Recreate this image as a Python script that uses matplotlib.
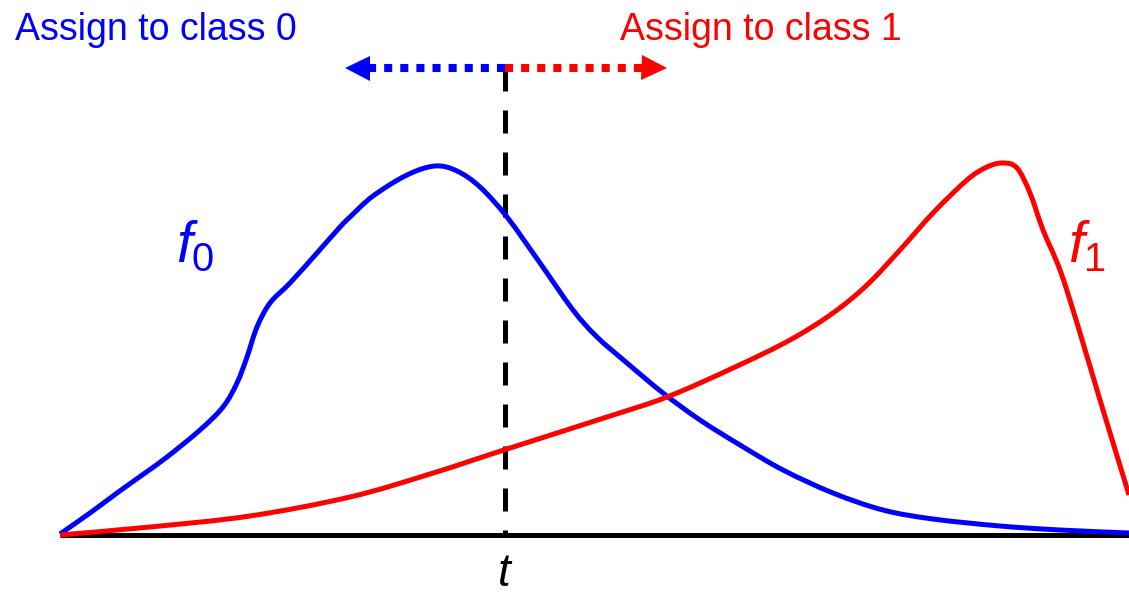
import numpy as np
import matplotlib.pyplot as plt
from matplotlib.path import Path
from matplotlib.patches import PathPatch

plt.rcParams['font.family'] = ['Liberation Sans', 'DejaVu Sans']
plt.rcParams['mathtext.fontset'] = 'custom'
plt.rcParams['mathtext.it'] = 'Liberation Sans:italic'
plt.rcParams['mathtext.rm'] = 'Liberation Sans'

# curves (pixel-like units, y grows downward)
f0_x = [60, 90, 117, 145, 167, 200, 223, 237, 247, 257, 270, 290, 317, 340, 350, 373, 407,
        435, 457, 480, 507, 540, 573, 597, 627, 663, 700, 740, 783, 833, 883, 933, 1000,
        1060, 1129]
f0_y = [534, 513, 493, 473, 457, 430, 407, 383, 357, 327, 303, 283, 253, 227, 217, 196, 175,
        166, 171, 187, 217, 263, 310, 337, 363, 393, 420, 445, 470, 493, 510, 519, 526,
        530, 533]

f1_x = [60, 150, 250, 350, 430, 507, 607, 667, 733, 790, 833, 867, 900, 933, 967, 987, 1003,
        1017, 1030, 1043, 1060, 1077, 1100, 1129]
f1_y = [535, 527, 516, 497, 474, 449, 417, 397, 368, 340, 313, 285, 250, 213, 180, 167, 163,
        168, 193, 230, 270, 323, 400, 495]

t_x = 505
base_y = 535
arrow_y = 68
left_end = 348
right_end = 663


def smooth_path(xs, ys):
    # catmull-rom through the read points, written as bezier segments
    p = np.column_stack([xs, ys]).astype(float)
    verts = [p[0]]
    codes = [Path.MOVETO]
    for i in range(len(p) - 1):
        p0 = p[i - 1] if i > 0 else p[i]
        p3 = p[i + 2] if i + 2 < len(p) else p[i + 1]
        c1 = p[i] + (p[i + 1] - p0) / 6
        c2 = p[i + 1] - (p3 - p[i]) / 6
        verts += [c1, c2, p[i + 1]]
        codes += [Path.CURVE4] * 3
    return Path(verts, codes)


fig = plt.figure(figsize=(11.29, 5.94), dpi=100)
ax = fig.add_axes([0, 0, 1, 1])
ax.set_xlim(0, 1129)
ax.set_ylim(594, 0)
ax.axis('off')

ax.plot([60, 1129], [base_y, base_y], color='black', lw=3.6, solid_capstyle='butt', zorder=1)
ax.add_patch(PathPatch(smooth_path(f0_x, f0_y), fill=False, edgecolor='blue', lw=3.6,
                       joinstyle='round', zorder=3))
ax.add_patch(PathPatch(smooth_path(f1_x, f1_y), fill=False, edgecolor='red', lw=3.6,
                       joinstyle='round', zorder=3))

ax.plot([t_x, t_x], [arrow_y, base_y], color='black', lw=3.6,
        linestyle=(0, (4.6, 3.8)), dash_capstyle='butt', zorder=2)

# dotted arrows
ax.plot([t_x, left_end + 18], [arrow_y, arrow_y], color='blue', lw=5.8,
        linestyle=(0, (1, 1)), dash_capstyle='butt', zorder=4)
ax.plot([t_x, right_end - 18], [arrow_y, arrow_y], color='red', lw=5.8,
        linestyle=(0, (1, 1)), dash_capstyle='butt', zorder=4)
ax.plot([left_end + 9], [arrow_y], marker='<', color='blue', ms=18, mew=0, zorder=5)
ax.plot([right_end - 9], [arrow_y], marker='>', color='red', ms=18, mew=0, zorder=5)

ax.text(15, 40, 'Assign to class 0', color='blue', fontsize=27)
ax.text(620, 40, 'Assign to class 1', color='red', fontsize=27)
ax.text(176, 262, '$f_0$', color='blue', fontsize=41)
ax.text(1068, 262, '$f_1$', color='red', fontsize=41)
ax.text(t_x, 586, '$t$', color='black', fontsize=33, ha='center')

fig.savefig('out.png', dpi=100)
